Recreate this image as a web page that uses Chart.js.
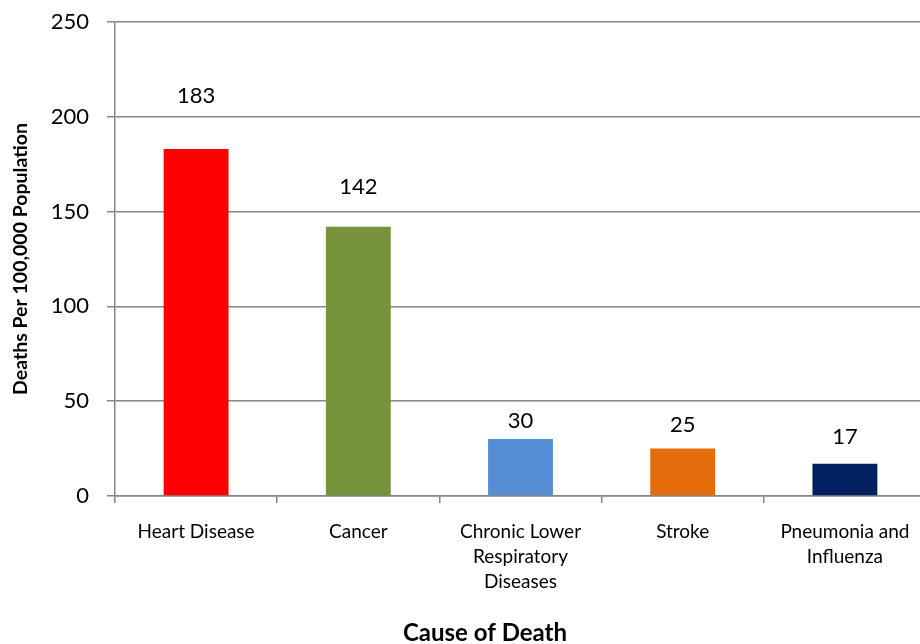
<!DOCTYPE html>
<html>
<head>
<meta charset="utf-8">
<script src="https://cdn.jsdelivr.net/npm/chart.js@4"></script>
<style>
  html, body { margin: 0; padding: 0; background: #fff; overflow: hidden; }
  #wrap { width: 926px; height: 644px; position: relative; }
</style>
</head>
<body>
<div id="wrap"><canvas id="c"></canvas></div>
<script>
const categories = ['Heart Disease', 'Cancer', ['Chronic Lower', 'Respiratory', 'Diseases'], 'Stroke', ['Pneumonia and', 'Influenza']];
const deathRates = [183, 142, 30, 25, 17];
const barColors = ['#FF0000', '#77933C', '#558ED5', '#E46C0A', '#002060'];
const labelOffsets = [53, 40, 18, 24, 27];
const yTicks = [0, 50, 100, 150, 200, 250];
const yTitle = 'Deaths Per 100,000 Population';
const xTitle = 'Cause of Death';

const FONT = 'Lato, "Open Sans", sans-serif';
const GRID = '#868686';

const labelPlugin = {
  id: 'valueLabels',
  afterDatasetsDraw(chart) {
    const ctx = chart.ctx;
    const meta = chart.getDatasetMeta(0);
    ctx.save();
    ctx.font = '22px ' + FONT;
    ctx.fillStyle = '#000';
    ctx.textAlign = 'center';
    ctx.textBaseline = 'middle';
    meta.data.forEach((bar, i) => {
      ctx.fillText(String(deathRates[i]), bar.x, bar.y - labelOffsets[i]);
    });
    ctx.restore();
  }
};

const xTitlePlugin = {
  id: 'xTitle',
  afterDraw(chart) {
    const ctx = chart.ctx;
    ctx.save();
    ctx.font = 'bold 24px ' + FONT;
    ctx.fillStyle = '#000';
    ctx.textAlign = 'center';
    ctx.textBaseline = 'middle';
    ctx.fillText(xTitle, 485, 633);
    ctx.restore();
  }
};

new Chart(document.getElementById('c'), {
  type: 'bar',
  data: {
    labels: categories,
    datasets: [{
      data: deathRates,
      backgroundColor: barColors,
      borderWidth: 0,
      categoryPercentage: 1.0,
      barPercentage: 0.4
    }]
  },
  options: {
    responsive: true,
    maintainAspectRatio: false,
    animation: false,
    layout: { padding: { top: 22, right: 0, bottom: 0, left: 0 } },
    plugins: { legend: { display: false }, tooltip: { enabled: false } },
    scales: {
      x: {
        offset: true,
        grid: { display: true, drawOnChartArea: false, drawTicks: true, tickLength: 7, offset: true, color: GRID, lineWidth: 1.5 },
        border: { display: true, color: GRID, width: 1.5 },
        ticks: { color: '#000', font: { family: FONT, size: 19, lineHeight: 1.3 }, padding: 17, maxRotation: 0, autoSkip: false },
        afterFit(scale) { scale.height = 148; scale.paddingLeft = 0; scale.paddingRight = 0; }
      },
      y: {
        min: 0, max: 250,
        afterBuildTicks(scale) { scale.ticks = yTicks.map(v => ({ value: v })); },
        grid: { color: GRID, lineWidth: 1.5, tickLength: 8, drawTicks: true },
        border: { display: true, color: GRID, width: 1.5 },
        ticks: { color: '#000', font: { family: FONT, size: 22 }, padding: 18 },
        title: { display: true, text: yTitle, color: '#000', font: { family: FONT, size: 19.5, weight: 'bold' }, padding: { top: 9, bottom: 0 } },
        afterFit(scale) { scale.width = 115; scale.paddingTop = 0; scale.paddingBottom = 0; }
      }
    }
  },
  plugins: [labelPlugin, xTitlePlugin]
});
</script>
</body>
</html>
